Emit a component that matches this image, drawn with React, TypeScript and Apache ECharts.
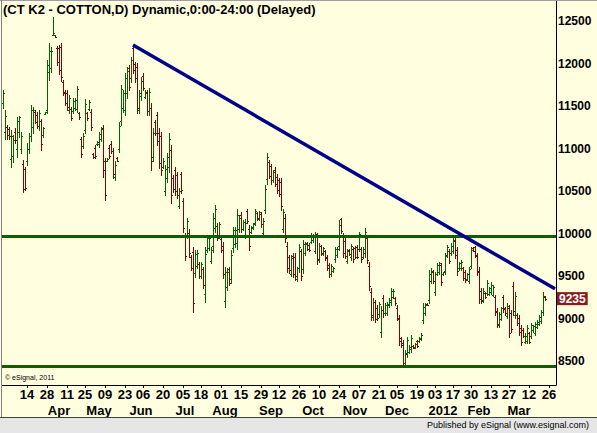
import React, { useEffect, useRef } from "react";
import * as echarts from "echarts";

// ---------- calendar ----------
const START_DATE = "2011-02-24";
const END_DATE = "2012-03-29";
const HOLIDAYS = [
  "2011-04-22", "2011-05-30", "2011-07-04", "2011-09-05", "2011-11-24",
  "2011-12-26", "2012-01-02", "2012-01-16", "2012-02-20",
];

// day tick labels (first trading day of every second week)
const DAY_TICKS = [
  "2011-03-14", "2011-03-28", "2011-04-11", "2011-04-25", "2011-05-09", "2011-05-23",
  "2011-06-06", "2011-06-20", "2011-07-05", "2011-07-18", "2011-08-01", "2011-08-15",
  "2011-08-29", "2011-09-12", "2011-09-26", "2011-10-10", "2011-10-24", "2011-11-07",
  "2011-11-21", "2011-12-05", "2011-12-19", "2012-01-03", "2012-01-17", "2012-01-30",
  "2012-02-13", "2012-02-27", "2012-03-12", "2012-03-26",
];
const MONTH_TICK_DATES = [
  "2011-04-01", "2011-05-02", "2011-06-01", "2011-07-01", "2011-08-01", "2011-09-01",
  "2011-10-03", "2011-11-01", "2011-12-01", "2012-01-03", "2012-02-01", "2012-03-01",
];
const MONTH_TICK_LABELS = ["Apr", "May", "Jun", "Jul", "Aug", "Sep", "Oct", "Nov", "Dec", "2012", "Feb", "Mar"];

const PRICE_TICKS = [8500, 9000, 9500, 10000, 10500, 11000, 11500, 12000, 12500];

// ---------- OHLC bars [open, high, low, close], one per trading day ----------
const BARS_A = [
  [11540, 11690, 11485, 11650], [11200, 11455, 11120, 11390], [11250, 11280, 11120, 11160], [11230, 11260, 11120, 11150],
  [10880, 11220, 10790, 11150], [10920, 11160, 10845, 11100], [11200, 11240, 11065, 11100], [11000, 11375, 10905, 11330],
  [11200, 11385, 11140, 11370], [11000, 11200, 10945, 11150], [10820, 10865, 10495, 10520], [10760, 10790, 10515, 10540],
  [10850, 11065, 10810, 11000], [11000, 11180, 10945, 11150], [11150, 11515, 11085, 11450], [11250, 11495, 11180, 11450],
  [11430, 11455, 11300, 11320], [11400, 11435, 11240, 11270], [11270, 11455, 11220, 11420], [11330, 11355, 10985, 11050],
  [11160, 11260, 11140, 11240], [11410, 11435, 11405, 11430], [11450, 12050, 11415, 11980], [11900, 12240, 11810, 12150],
  [11950, 12200, 11905, 12150], [12340, 12555, 12335, 12360], [12335, 12340, 12315, 12320], [12180, 12210, 11985, 12020],
  [12190, 12220, 11885, 11930], [12200, 12240, 11800, 11850], [11780, 11810, 11630, 11660], [11670, 11690, 11515, 11540],
  [11660, 11690, 11455, 11490], [11450, 11630, 11415, 11600], [11470, 11495, 11340, 11360], [11440, 11595, 11415, 11560],
  [11480, 11595, 11455, 11570], [11470, 11740, 11435, 11700], [11420, 11435, 11355, 11370], [11120, 11140, 10905, 10940],
  [11030, 11180, 11005, 11150], [11220, 11580, 11180, 11530], [11420, 11435, 11340, 11360], [11470, 11575, 11455, 11550],
  [11430, 11470, 11220, 11260], [10935, 10945, 10885, 10900], [11010, 11045, 10885, 10910], [11050, 11085, 11045, 11075],
  [11050, 11200, 11025, 11170], [11110, 11260, 11085, 11230], [11240, 11280, 10670, 10750], [10850, 10885, 10395, 10450],
  [10855, 10885, 10850, 10880], [11010, 11045, 10885, 10920], [11060, 11085, 10945, 10970], [10970, 11005, 10650, 10700],
  [10670, 10850, 10630, 10810], [10895, 10905, 10850, 10860], [11000, 11320, 10965, 11270], [11330, 11750, 11280, 11700],
  [11480, 11690, 11435, 11650], [11450, 11890, 11395, 11830], [11650, 11965, 11595, 11920], [11950, 11985, 11690, 11730],
  [11830, 12085, 11790, 12040], [12180, 12220, 11890, 11930], [12000, 12025, 11790, 11830], [11960, 12005, 11415, 11480],
];
const BARS_B = [
  [11460, 11690, 11415, 11650], [11620, 11850, 11575, 11800], [11860, 11890, 11690, 11720], [11610, 11690, 11595, 11670],
  [11660, 11690, 11395, 11440], [11440, 11710, 11395, 11670], [11480, 11535, 10750, 10850], [10900, 11240, 10850, 11190],
  [11310, 11340, 11160, 11190], [11400, 11435, 11045, 11090], [11190, 11240, 10770, 10830], [11150, 11200, 10690, 10750],
  [10790, 10885, 10770, 10860], [10500, 10810, 10455, 10760], [10660, 10945, 10610, 10900], [10790, 11180, 10730, 11120],
  [10980, 11045, 10355, 10450], [10660, 10690, 10495, 10520], [10750, 10790, 10455, 10500], [10690, 10730, 10415, 10460],
  [10330, 10535, 10300, 10500], [10700, 10730, 10475, 10510], [10380, 10415, 10025, 10070], [9960, 10005, 9695, 9740],
  [9980, 10190, 9945, 10150], [10010, 10050, 9730, 9770], [9720, 9750, 9570, 9600], [9780, 9845, 9080, 9180],
  [9540, 9805, 9495, 9760], [9620, 9805, 9590, 9770], [9640, 9670, 9475, 9500], [9500, 9670, 9475, 9640],
  [9580, 9610, 9355, 9390], [9290, 9845, 9200, 9760], [9810, 9985, 9785, 9950], [9830, 9985, 9805, 9950],
  [9680, 9845, 9650, 9810], [9850, 10245, 9785, 10180], [10070, 10335, 10025, 10290], [10090, 10120, 9925, 9950],
  [9970, 10140, 9945, 10110], [9940, 9965, 9785, 9810], [9850, 9905, 9475, 9530], [9210, 9610, 9140, 9550],
  [9370, 9590, 9335, 9550], [9580, 9610, 9395, 9420], [9470, 9805, 9415, 9750], [9830, 10080, 9785, 10040],
  [9880, 10075, 9845, 10040], [9890, 10285, 9825, 10220], [10050, 10220, 10025, 10190], [10220, 10260, 10025, 10060],
  [10060, 10160, 10040, 10140], [9980, 10170, 9945, 10130], [10270, 10295, 10120, 10150], [10060, 10100, 9805, 9850],
  [10015, 10090, 10005, 10075], [10070, 10120, 10060, 10110], [10130, 10295, 10100, 10270], [10240, 10260, 10160, 10180],
  [10175, 10270, 10160, 10250], [10230, 10260, 10080, 10110], [10010, 10180, 9985, 10150], [10280, 10570, 10240, 10530],
  [10640, 10945, 10590, 10900], [10840, 10865, 10650, 10680], [10800, 10825, 10590, 10630], [10630, 10750, 10610, 10720],
];
const BARS_C = [
  [10750, 10780, 10560, 10590], [10670, 10700, 10480, 10510], [10630, 10660, 10440, 10470], [10610, 10660, 10280, 10330],
  [10060, 10290, 10020, 10250], [10190, 10230, 9905, 9950], [9860, 9905, 9550, 9600], [9720, 9750, 9540, 9570],
  [9530, 9750, 9500, 9710], [9740, 9775, 9495, 9530], [9730, 9770, 9460, 9500], [9470, 9610, 9445, 9590],
  [9590, 9880, 9550, 9840], [9790, 9825, 9455, 9500], [9580, 9925, 9535, 9880], [9770, 9905, 9750, 9880],
  [9890, 9905, 9810, 9825], [9870, 9885, 9790, 9805], [9900, 10005, 9885, 9985], [9920, 9995, 9905, 9980],
  [9800, 10025, 9770, 9990], [9970, 10010, 9645, 9690], [9700, 9885, 9670, 9850], [9850, 9865, 9750, 9770],
  [9765, 9845, 9750, 9830], [9790, 9810, 9690, 9710], [9730, 9750, 9570, 9600], [9630, 9650, 9495, 9520],
  [9520, 9645, 9500, 9620], [9560, 9610, 9550, 9600], [9700, 9845, 9670, 9820], [9745, 9840, 9730, 9820],
  [9850, 10155, 9810, 10100], [10170, 10190, 10005, 10030], [9980, 10010, 9730, 9770], [9910, 9945, 9710, 9740],
  [9680, 9825, 9650, 9800], [9810, 9825, 9750, 9760], [9720, 9880, 9690, 9850], [9820, 9845, 9670, 9700],
  [9830, 9855, 9710, 9730], [9840, 9865, 9710, 9730], [9820, 10025, 9790, 9990], [9820, 9845, 9670, 9700],
  [9730, 9840, 9710, 9820], [9770, 10065, 9730, 10020], [9950, 9985, 9650, 9690], [9620, 9670, 9335, 9380],
  [9310, 9355, 8985, 9040], [9020, 9240, 8985, 9200], [9190, 9220, 8965, 9000], [9130, 9160, 8985, 9010],
  [9050, 9200, 9020, 9170], [8840, 9145, 8785, 9100], [9240, 9275, 9020, 9060], [9060, 9180, 9040, 9160],
  [9070, 9200, 9040, 9170], [9155, 9240, 9140, 9220], [9190, 9355, 9160, 9320], [9255, 9345, 9240, 9320],
  [9240, 9255, 9160, 9180], [9130, 9160, 8985, 9010], [9000, 9040, 8690, 8740], [8770, 8785, 8670, 8690],
  [8710, 8745, 8435, 8480], [8480, 8630, 8455, 8600], [8580, 8785, 8550, 8750], [8605, 8690, 8590, 8670],
];
const BARS_D = [
  [8640, 8805, 8610, 8770], [8680, 8690, 8650, 8655], [8660, 8710, 8650, 8700], [8735, 8745, 8670, 8680],
  [8735, 8785, 8725, 8775], [8760, 8825, 8745, 8810], [8980, 9180, 8945, 9140], [9060, 9180, 9040, 9160],
  [9175, 9180, 9160, 9165], [9220, 9570, 9180, 9520], [9440, 9590, 9415, 9560], [9550, 9570, 9415, 9440],
  [9310, 9550, 9275, 9520], [9530, 9650, 9510, 9630], [9550, 9670, 9530, 9650], [9630, 9660, 9395, 9430],
  [9520, 9550, 9510, 9545], [9560, 9770, 9530, 9740], [9750, 9865, 9730, 9840], [9800, 9825, 9650, 9680],
  [9770, 9885, 9750, 9860], [9800, 9965, 9770, 9930], [9910, 9945, 9710, 9750], [9810, 9845, 9515, 9560],
  [9590, 9670, 9570, 9650], [9590, 9690, 9570, 9670], [9590, 9610, 9455, 9480], [9550, 9570, 9435, 9460],
  [9465, 9535, 9455, 9520], [9440, 9610, 9415, 9580], [9620, 9845, 9590, 9810], [9835, 9845, 9790, 9800],
  [9840, 9860, 9730, 9750], [9740, 9770, 9515, 9550], [9560, 9610, 9180, 9230], [9330, 9355, 9180, 9210],
  [9220, 9355, 9200, 9330], [9305, 9315, 9240, 9250], [9300, 9455, 9280, 9420], [9290, 9375, 9280, 9360],
  [9310, 9425, 9295, 9400], [9280, 9395, 9260, 9370], [9250, 9280, 9040, 9080], [9090, 9120, 8905, 8940],
  [8930, 9080, 8905, 9050], [9000, 9140, 8985, 9120], [9250, 9280, 9080, 9110], [9125, 9140, 9040, 9060],
  [9030, 9180, 9005, 9150], [9120, 9160, 8785, 8830], [9070, 9100, 8845, 8880], [9380, 9435, 9040, 9090],
  [9040, 9315, 9005, 9270], [9040, 9060, 8925, 8950], [9010, 9040, 8805, 8840], [8890, 8925, 8690, 8720],
  [8870, 8885, 8785, 8800], [8730, 8825, 8710, 8800], [8740, 8925, 8710, 8890], [8830, 8845, 8710, 8730],
  [8790, 8945, 8770, 8920], [8860, 8925, 8845, 8910], [8830, 8965, 8805, 8940], [8900, 8985, 8885, 8960],
  [8940, 9040, 8925, 9020], [8970, 9100, 8945, 9080], [9080, 9315, 9040, 9270], [9250, 9260, 9220, 9235],
];

const LEVELS = [9965, 8433];
const TREND_FROM = [65, 12221];
const TREND_TO = [276, 9350];
const LAST_PRICE = 9235;

const Y_MIN = 8218;
const Y_MAX = 12739;

const FONT = "'Liberation Sans', Arial, Helvetica, sans-serif";
const UP = "#006400";
const DOWN = "#8b0000";

function tradingDays(): string[] {
  const out: string[] = [];
  const d = new Date(START_DATE + "T00:00:00Z");
  const end = new Date(END_DATE + "T00:00:00Z");
  while (d.getTime() <= end.getTime()) {
    const dow = d.getUTCDay();
    const s = d.toISOString().slice(0, 10);
    if (dow !== 0 && dow !== 6 && HOLIDAYS.indexOf(s) < 0) out.push(s);
    d.setUTCDate(d.getUTCDate() + 1);
  }
  return out;
}

export default function App() {
  const ref = useRef<HTMLDivElement>(null);
  useEffect(() => {
    if (!ref.current) return;
    const chart = echarts.init(ref.current, null, { renderer: "svg" });
    const dates = tradingDays();
    const bars = [...BARS_A, ...BARS_B, ...BARS_C, ...BARS_D];
    const ohlc = bars.map((b, i) => [i, b[0], b[1], b[2], b[3]]);

    const option: any = {
      animation: false,
      backgroundColor: "#ffffe0",
      textStyle: { fontFamily: FONT },
      grid: { left: 2, top: 1, width: 554, height: 384 },
      xAxis: [
        {
          type: "category",
          data: dates,
          position: "bottom",
          boundaryGap: true,
          axisLine: { show: true, lineStyle: { color: "#000", width: 1 } },
          axisTick: {
            show: true,
            alignWithLabel: true,
            length: 3,
            interval: (i: number, v: string) => DAY_TICKS.indexOf(v) >= 0,
            lineStyle: { color: "#000" },
          },
          axisLabel: {
            interval: (i: number, v: string) => DAY_TICKS.indexOf(v) >= 0,
            formatter: (v: string) => v.slice(8, 10),
            color: "#000",
            fontWeight: "bold",
            fontSize: 13,
            fontFamily: FONT,
            margin: 3,
          },
          splitLine: { show: false },
        },
        {
          type: "category",
          data: dates,
          position: "bottom",
          offset: 16,
          boundaryGap: true,
          axisLine: { show: false },
          axisTick: { show: false },
          axisLabel: {
            interval: (i: number, v: string) => MONTH_TICK_DATES.indexOf(v) >= 0,
            formatter: (v: string) => {
              const k = MONTH_TICK_DATES.indexOf(v);
              const t = MONTH_TICK_LABELS[k];
              return t === "2012" ? "{y|" + t + "}" : "{m|" + t + "}";
            },
            color: "#000",
            fontWeight: "bold",
            fontSize: 13,
            fontFamily: FONT,
            margin: 3,
            rich: {
              m: { fontWeight: "bold", fontSize: 13, fontFamily: FONT, color: "#000", padding: [0, 0, 0, 8] },
              y: { fontWeight: "bold", fontSize: 13, fontFamily: FONT, color: "#000", padding: [0, 0, 0, 16] },
            },
          },
          splitLine: { show: false },
        },
      ],
      yAxis: [
        {
          type: "value",
          position: "right",
          min: Y_MIN,
          max: Y_MAX,
          axisLine: { show: true, lineStyle: { color: "#000", width: 1 } },
          axisTick: { show: false },
          splitLine: { show: false },
          axisLabel: {
            customValues: PRICE_TICKS,
            formatter: (v: number) => String(v),
            color: "#000",
            fontWeight: "bold",
            fontSize: 12,
            fontFamily: FONT,
            margin: 2,
          },
        },
        {
          type: "value",
          position: "right",
          min: Y_MIN,
          max: Y_MAX,
          axisLine: { show: false },
          axisTick: { show: false },
          splitLine: { show: false },
          axisLabel: {
            customValues: [LAST_PRICE],
            formatter: (v: number) => String(v),
            color: "#fff",
            backgroundColor: "#8b1a1a",
            padding: [1, 2, 0, 2],
            fontWeight: "bold",
            fontSize: 12,
            fontFamily: FONT,
            margin: 1,
          },
        },
      ],
      series: [
        {
          type: "custom",
          xAxisIndex: 0,
          yAxisIndex: 0,
          data: ohlc,
          encode: { x: 0, y: [1, 2, 3, 4] },
          renderItem: (params: any, api: any) => {
            const i = api.value(0);
            const o = api.value(1);
            const h = api.value(2);
            const l = api.value(3);
            const c = api.value(4);
            const pH = api.coord([i, h]);
            const pL = api.coord([i, l]);
            const pO = api.coord([i, o]);
            const pC = api.coord([i, c]);
            const x = Math.round(pH[0]) + 0.5;
            const yo = Math.round(pO[1]) + 0.5;
            const yc = Math.round(pC[1]) + 0.5;
            const color = c >= o ? UP : DOWN;
            const st = { stroke: color, lineWidth: 1 };
            return {
              type: "group",
              children: [
                { type: "line", shape: { x1: x, y1: Math.round(pH[1]), x2: x, y2: Math.round(pL[1]) + 1 }, style: st },
                { type: "line", shape: { x1: x - 1.5, y1: yo, x2: x, y2: yo }, style: st },
                { type: "line", shape: { x1: x, y1: yc, x2: x + 1.5, y2: yc }, style: st },
              ],
            };
          },
          z: 3,
        },
        {
          type: "line",
          xAxisIndex: 0,
          yAxisIndex: 0,
          data: [],
          markLine: {
            silent: true,
            symbol: "none",
            label: { show: false },
            lineStyle: { color: "#006400", width: 3, type: "solid" },
            data: LEVELS.map((v) => ({ yAxis: v })),
          },
          z: 4,
        },
        {
          type: "line",
          xAxisIndex: 0,
          yAxisIndex: 0,
          data: [TREND_FROM, TREND_TO],
          symbol: "none",
          lineStyle: { color: "#00008b", width: 3.5 },
          z: 5,
        },
      ],
      graphic: [
        { type: "line", shape: { x1: 0, y1: 0.5, x2: 597, y2: 0.5 }, style: { stroke: "#a0a0a0", lineWidth: 1 }, z: 10 },
        { type: "line", shape: { x1: 1.5, y1: 0, x2: 1.5, y2: 418 }, style: { stroke: "#808080", lineWidth: 1 }, z: 10 },
        { type: "rect", shape: { x: 0, y: 418, width: 597, height: 15 }, style: { fill: "#e6e6e6" }, z: 10 },
        { type: "line", shape: { x1: 0, y1: 417.5, x2: 597, y2: 417.5 }, style: { stroke: "#404040", lineWidth: 1 }, z: 11 },
        {
          type: "text",
          left: 3,
          top: 3,
          style: { text: "(CT K2 - COTTON,D) Dynamic,0:00-24:00 (Delayed)", fill: "#000", font: "bold 13px " + FONT },
          z: 12,
        },
        {
          type: "text",
          left: 5,
          top: 374,
          style: { text: "\u00a9 eSignal, 2011", fill: "#000", font: "7px " + FONT },
          z: 12,
        },
        {
          type: "text",
          right: 8,
          top: 420,
          style: { text: "Published by eSignal (www.esignal.com)", fill: "#000", font: "9px " + FONT },
          z: 12,
        },
      ],
    };
    chart.setOption(option);
    return () => chart.dispose();
  }, []);
  return (
    <div
      ref={ref}
      style={{ position: "absolute", left: 0, top: 0, width: 597, height: 433 }}
    />
  );
}
